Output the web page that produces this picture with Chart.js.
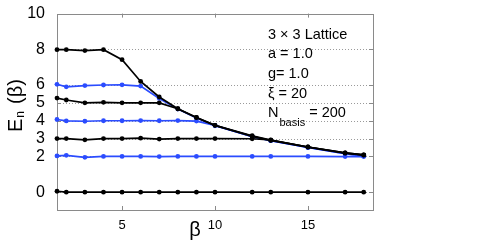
<!DOCTYPE html>
<html lang="en">
<head>
<meta charset="UTF-8">
<title>Energy levels vs beta - 3x3 lattice</title>
<script src="https://cdn.jsdelivr.net/npm/chart.js"></script>
<style>
  body { margin: 0; background: #fff; }
  #wrap { width: 491px; height: 245px; }
</style>
</head>
<body>
<div id="wrap"><canvas id="levelsChart" width="491" height="245"></canvas></div>
<script>
// beta values where the spectrum was computed
const betas = [1.5, 2, 3, 4, 5, 6, 7, 8, 9, 10, 12, 13, 15, 17, 18];

// energy levels E_n(beta)
const level0 = [0.05, 0, 0, 0, 0, 0, 0, 0, 0, 0, 0, 0, 0, 0, 0];
const level1 = [2.03, 2.06, 1.95, 2.0, 2.0, 2.0, 1.99, 2.0, 2.0, 2.0, 2.0, 2.0, 2.0, 1.99, 1.99];
const level2 = [3.0, 3.0, 2.93, 3.0, 3.0, 3.02, 2.97, 3.0, 3.0, 3.0, 2.99, 2.92, 2.53, 2.2, 2.09];
const level3 = [4.07, 3.99, 3.97, 4.0, 4.0, 4.01, 4.0, 4.01, 3.98, 3.74, 3.1, 2.88, 2.5, 2.15, 2.03];
const level4 = [5.27, 5.16, 5.0, 5.03, 5.0, 5.0, 5.0, 4.67, 4.18, 3.74, 3.12, 2.9, 2.52, 2.18, 2.07];
const level5 = [6.04, 5.9, 5.97, 6.0, 6.01, 5.94, 5.25, 4.65, 4.15, 3.72, 3.12, 2.88, 2.5, 2.15, 2.02];
const level6 = [7.98, 7.98, 7.93, 7.98, 7.42, 6.2, 5.33, 4.67, 4.18, 3.74, 3.16, 2.91, 2.53, 2.2, 2.09];

const xTicks = [5, 10, 15];
const yTicks = [0, 2, 3, 4, 5, 6, 8, 10];

const infoLines = ['3 \u00d7 3 Lattice', 'a = 1.0', 'g= 1.0', '\u03be = 20'];

const BLACK = '#000000';
const BLUE = '#2b4cff';

function levelSet(values, color) {
    return {
        data: betas.map((b, i) => ({ x: b, y: values[i] })),
        borderColor: color,
        backgroundColor: color,
        borderWidth: 1.7,
        pointRadius: 2.4,
        pointBorderWidth: 0,
        pointBackgroundColor: color,
        tension: 0,
        clip: false,
        order: color === BLACK ? 0 : 1
    };
}

// grid, frame and inward ticks (matlab look)
const framePlugin = {
    id: 'frame',
    beforeDatasetsDraw(chart) {
        const { ctx, chartArea: a, scales } = chart;
        ctx.save();
        ctx.strokeStyle = '#9a9a9a';
        ctx.lineWidth = 1;
        ctx.setLineDash([1, 2]);
        yTicks.forEach(v => {
            const y = Math.round(scales.y.getPixelForValue(v)) + 0.5;
            ctx.beginPath();
            ctx.moveTo(a.left, y);
            ctx.lineTo(a.right, y);
            ctx.stroke();
        });
        ctx.setLineDash([]);
        ctx.strokeStyle = '#8a8a8a';
        ctx.strokeRect(Math.round(a.left) + 0.5, Math.round(a.top) + 0.5,
            Math.round(a.right - a.left), Math.round(a.bottom - a.top));
        const tl = 4;
        ctx.beginPath();
        yTicks.forEach(v => {
            const y = Math.round(scales.y.getPixelForValue(v)) + 0.5;
            ctx.moveTo(a.left, y); ctx.lineTo(a.left + tl, y);
            ctx.moveTo(a.right, y); ctx.lineTo(a.right - tl, y);
        });
        xTicks.forEach(v => {
            const x = Math.round(scales.x.getPixelForValue(v)) + 0.5;
            ctx.moveTo(x, a.bottom); ctx.lineTo(x, a.bottom - tl);
            ctx.moveTo(x, a.top); ctx.lineTo(x, a.top + tl);
        });
        ctx.stroke();
        ctx.restore();
    },
    afterDraw(chart) {
        const ctx = chart.ctx;
        ctx.save();
        ctx.fillStyle = '#000';
        ctx.textBaseline = 'alphabetic';
        ctx.textAlign = 'left';

        // y title: E_n (beta), rotated
        ctx.save();
        ctx.translate(22, 132);
        ctx.rotate(-Math.PI / 2);
        ctx.font = '20px "Liberation Sans", Arial, sans-serif';
        ctx.fillText('E', 0, 0);
        const wE = ctx.measureText('E').width;
        ctx.font = '12px "Liberation Sans", Arial, sans-serif';
        ctx.fillText('n', wE + 1, 2);
        ctx.font = '20px "Liberation Sans", Arial, sans-serif';
        ctx.fillText('(\u03b2)', 28, 0);
        ctx.restore();

        // x title
        ctx.font = '20px "Liberation Sans", Arial, sans-serif';
        ctx.textAlign = 'center';
        ctx.fillText('\u03b2', 195, 236);

        // parameter box
        ctx.textAlign = 'left';
        ctx.font = '14.5px "Liberation Sans", Arial, sans-serif';
        const baselines = [39, 58, 78, 98];
        infoLines.forEach((t, i) => ctx.fillText(t, 268, baselines[i]));
        ctx.fillText('N', 268, 117);
        const wN = ctx.measureText('N').width;
        ctx.font = '11px "Liberation Sans", Arial, sans-serif';
        ctx.fillText('basis', 268 + wN + 1, 126);
        const wB = ctx.measureText('basis').width;
        ctx.font = '14.5px "Liberation Sans", Arial, sans-serif';
        ctx.fillText(' = 200', 268 + wN + 1 + wB, 117);
        ctx.restore();
    }
};

const ctx = document.getElementById('levelsChart').getContext('2d');
new Chart(ctx, {
    type: 'line',
    data: {
        datasets: [
            levelSet(level0, BLACK),
            levelSet(level1, BLUE),
            levelSet(level2, BLACK),
            levelSet(level3, BLUE),
            levelSet(level4, BLACK),
            levelSet(level5, BLUE),
            levelSet(level6, BLACK)
        ]
    },
    options: {
        responsive: false,
        animation: false,
        layout: { padding: { top: 10, right: 118, bottom: 0, left: 0 } },
        plugins: {
            legend: { display: false },
            tooltip: { enabled: false },
            title: { display: false }
        },
        scales: {
            x: {
                type: 'linear',
                min: 1.5,
                max: 18.5,
                afterBuildTicks: s => { s.ticks = xTicks.map(v => ({ value: v })); },
                afterFit: s => { s.height = 35; },
                grid: { display: false },
                border: { display: false },
                ticks: {
                    color: '#000',
                    padding: 0,
                    maxRotation: 0,
                    font: { family: '"Liberation Sans", Arial, sans-serif', size: 13 }
                }
            },
            y: {
                min: -1,
                max: 10,
                afterBuildTicks: s => { s.ticks = yTicks.map(v => ({ value: v })); },
                afterFit: s => { s.width = 57; },
                grid: { display: false },
                border: { display: false },
                ticks: {
                    color: '#000',
                    padding: 4,
                    font: { family: '"Liberation Sans Narrow", "Liberation Sans", Arial, sans-serif', size: 16 }
                }
            }
        }
    },
    plugins: [framePlugin]
});
</script>
</body>
</html>
